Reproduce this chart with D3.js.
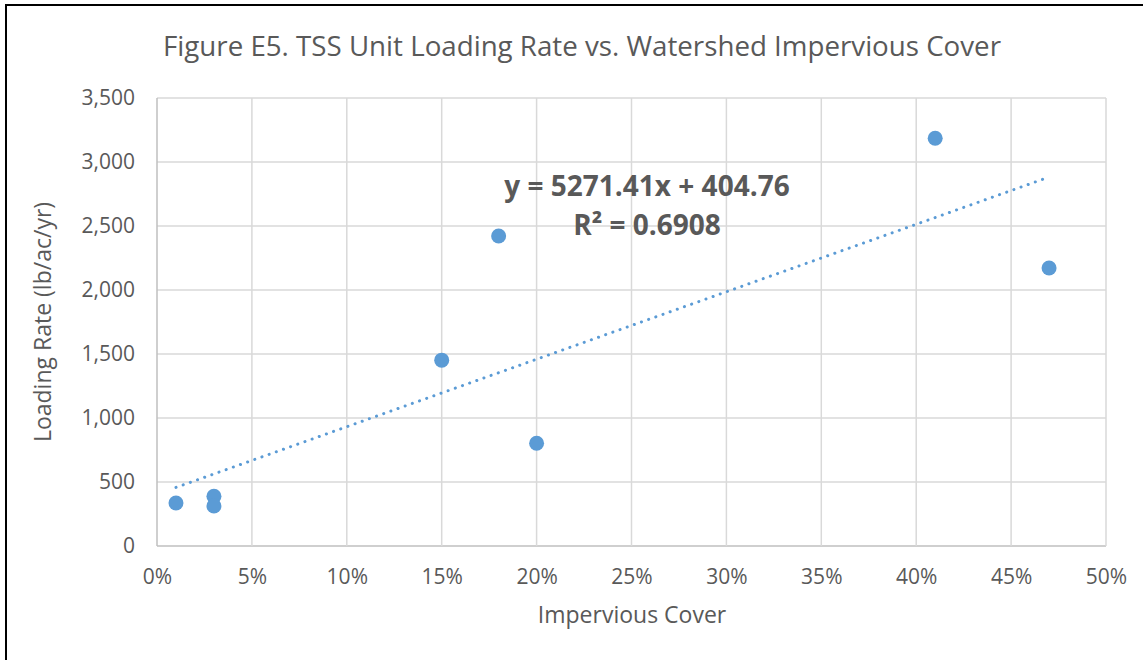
<!DOCTYPE html>
<html><head><meta charset="utf-8">
<script src="https://cdn.jsdelivr.net/npm/d3@7"></script>
<style>body{margin:0;background:#fff}svg{display:block}text{font-family:"Open Sans",Lato,sans-serif}</style>
</head><body>
<svg id="chart" width="1143" height="660"></svg>
<script>
const title = "Figure E5. TSS Unit Loading Rate vs. Watershed Impervious Cover";
const xTitle = "Impervious Cover";
const yTitle = "Loading Rate (lb/ac/yr)";
const imperviousCover = [0.01, 0.03, 0.03, 0.15, 0.18, 0.20, 0.41, 0.47];
const loadingRate = [336, 388, 312, 1452, 2422, 803, 3185, 2172];
const xTicks = [0, 0.05, 0.10, 0.15, 0.20, 0.25, 0.30, 0.35, 0.40, 0.45, 0.50];
const yTicks = [0, 500, 1000, 1500, 2000, 2500, 3000, 3500];
const trendSlope = 5271.41, trendIntercept = 404.76, rSquared = 0.6908;
const trendRange = [0.01, 0.47];

const svg = d3.select("#chart");
const m = {left:157, right:1106, top:98, bottom:546};
const x = d3.scaleLinear().domain([0,0.5]).range([m.left, m.right]);
const y = d3.scaleLinear().domain([0,3500]).range([m.bottom, m.top]);
const grid = "#d9d9d9", txt = "#595959", blue = "#5b9bd5";
const font = "'Open Sans',Lato,sans-serif";

// outer border (top and left visible)
svg.append("line").attr("x1",5).attr("x2",1143).attr("y1",5).attr("y2",5).attr("stroke","#000").attr("stroke-width",2);
svg.append("line").attr("x1",6).attr("x2",6).attr("y1",4).attr("y2",660).attr("stroke","#000").attr("stroke-width",2);

// gridlines
svg.append("g").selectAll("line").data(yTicks).join("line")
  .attr("x1",m.left).attr("x2",m.right).attr("y1",d=>y(d)).attr("y2",d=>y(d))
  .attr("stroke",d=>d===0?"#bfbfbf":grid).attr("stroke-width",1.5);
svg.append("g").selectAll("line").data(xTicks).join("line")
  .attr("y1",m.top).attr("y2",m.bottom).attr("x1",d=>x(d)).attr("x2",d=>x(d))
  .attr("stroke",d=>d===0?"#bfbfbf":grid).attr("stroke-width",1.5);

// axes via d3 (labels only)
const yAxis = d3.axisLeft(y).tickValues(yTicks).tickFormat(d3.format(",")).tickSize(0).tickPadding(22);
const gy = svg.append("g").attr("transform",`translate(${m.left},0)`).call(yAxis);
gy.select(".domain").remove();
gy.selectAll("text").attr("fill",txt).attr("font-size",21).style("font-family",font);
const xAxis = d3.axisBottom(x).tickValues(xTicks).tickFormat(d3.format(".0%")).tickSize(0).tickPadding(23);
const gx = svg.append("g").attr("transform",`translate(0,${m.bottom})`).call(xAxis);
gx.select(".domain").remove();
gx.selectAll("text").attr("fill",txt).attr("font-size",21).style("font-family",font);

// trendline
svg.append("line")
  .attr("x1",x(trendRange[0])).attr("y1",y(trendSlope*trendRange[0]+trendIntercept))
  .attr("x2",x(trendRange[1])).attr("y2",y(trendSlope*trendRange[1]+trendIntercept))
  .attr("stroke",blue).attr("stroke-width",3).attr("stroke-linecap","round").attr("stroke-dasharray","0.1 7.5");

// points
svg.append("g").selectAll("circle").data(imperviousCover.map((v,i)=>[v,loadingRate[i]])).join("circle")
  .attr("cx",d=>x(d[0])).attr("cy",d=>y(d[1])).attr("r",7.5).attr("fill",blue);

// titles
svg.append("text").attr("x",582).attr("y",56).attr("text-anchor","middle").attr("fill",txt)
  .attr("font-size",27).attr("textLength",838).attr("lengthAdjust","spacingAndGlyphs").text(title);
svg.append("text").attr("x",632).attr("y",623).attr("text-anchor","middle").attr("fill",txt)
  .attr("font-size",23).text(xTitle);
svg.append("text").attr("transform","translate(51,322) rotate(-90)").attr("text-anchor","middle").attr("fill",txt)
  .attr("font-size",23).text(yTitle);

// equation
svg.append("text").attr("x",647).attr("y",196).attr("text-anchor","middle").attr("fill",txt)
  .attr("font-size",28).attr("font-weight","bold")
  .text(`y = ${trendSlope.toFixed(2)}x + ${trendIntercept.toFixed(2)}`);
svg.append("text").attr("x",647).attr("y",235).attr("text-anchor","middle").attr("fill",txt)
  .attr("font-size",28).attr("font-weight","bold")
  .text(`R² = ${rSquared}`);
</script>
</body></html>
